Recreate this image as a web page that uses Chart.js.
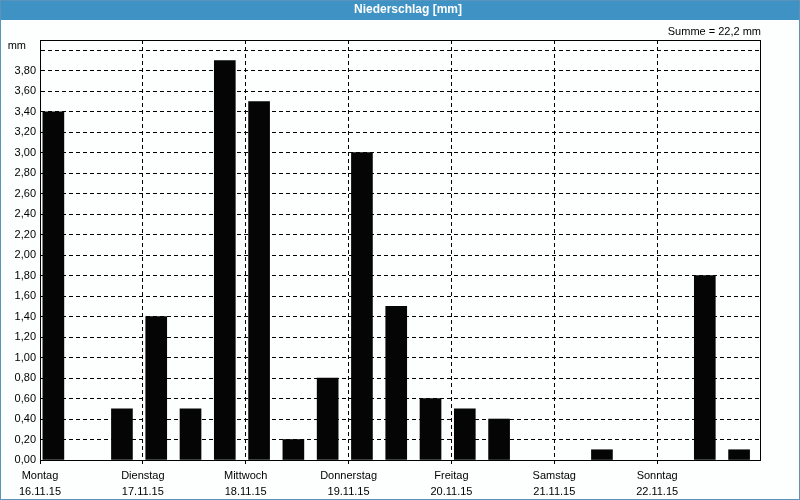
<!DOCTYPE html>
<html>
<head>
<meta charset="utf-8">
<script src="https://cdn.jsdelivr.net/npm/chart.js@4/dist/chart.umd.min.js"></script>
<style>
  body { margin: 0; background: #fff; }
</style>
</head>
<body>
<canvas id="rainChart" width="800" height="500"></canvas>
<script>
// Tage und Datum (Beschriftung der x-Achse)
const days = ['Montag', 'Dienstag', 'Mittwoch', 'Donnerstag', 'Freitag', 'Samstag', 'Sonntag'];
const dates = ['16.11.15', '17.11.15', '18.11.15', '19.11.15', '20.11.15', '21.11.15', '22.11.15'];
// Niederschlag in mm, drei 8-Stunden-Werte pro Tag
const rain = [
  3.4, 0, 0.5,
  1.4, 0.5, 3.9,
  3.5, 0.2, 0.8,
  3.0, 1.5, 0.6,
  0.5, 0.4, 0,
  0, 0.1, 0,
  0, 1.8, 0.1
];
const slotsPerDay = 3;

const fmt = v => v.toFixed(2).replace('.', ',');
const total = rain.reduce((a, b) => a + b, 0);

Chart.defaults.font.family = "'Liberation Sans', Arial, sans-serif";
Chart.defaults.font.size = 11;
Chart.defaults.color = '#000';

// Rahmen, Titelleiste, Summe und Einheit
const decoration = {
  id: 'decoration',
  beforeDraw(chart) {
    const ctx = chart.ctx;
    ctx.save();
    ctx.fillStyle = '#fdfefe';
    ctx.fillRect(0, 0, chart.width, chart.height);
    ctx.fillStyle = '#3e92c4';
    ctx.fillRect(0, 0, chart.width, 20);
    ctx.strokeStyle = '#5a93bb';
    ctx.lineWidth = 1;
    ctx.strokeRect(0.5, 0.5, chart.width - 1, chart.height - 1);
    ctx.fillStyle = '#fff';
    ctx.font = "bold 12px 'Liberation Sans', Arial, sans-serif";
    ctx.textAlign = 'center';
    ctx.textBaseline = 'middle';
    ctx.fillText('Niederschlag [mm]', 408, 10);
    ctx.restore();
  },
  afterDraw(chart) {
    const ctx = chart.ctx;
    const a = chart.chartArea;
    ctx.save();
    ctx.strokeStyle = '#000';
    ctx.lineWidth = 1;
    ctx.strokeRect(Math.round(a.left) + 0.5, Math.round(a.top) + 0.5,
                   Math.round(a.right - a.left), Math.round(a.bottom - a.top));
    ctx.fillStyle = '#000';
    ctx.font = "11px 'Liberation Sans', Arial, sans-serif";
    ctx.textAlign = 'right';
    ctx.textBaseline = 'middle';
    ctx.fillText('Summe = ' + total.toFixed(1).replace('.', ',') + ' mm', a.right + 1, 32);
    ctx.fillText('mm', 26, chart.scales.y.getPixelForValue(4) - 4);
    ctx.restore();
  }
};

const BAR_SHIFT = 0.39; // Balken sitzen links im 8-Stunden-Feld

new Chart(document.getElementById('rainChart'), {
  type: 'bar',
  data: {
    datasets: [{
      data: rain.map((v, i) => ({ x: i + BAR_SHIFT, y: v || null })),
      backgroundColor: '#050505',
      borderWidth: 0,
      barThickness: 21
    }]
  },
  options: {
    responsive: false,
    animation: false,
    layout: { padding: { top: 40, right: 40, left: 0, bottom: 0 } },
    plugins: { legend: { display: false }, tooltip: { enabled: false }, title: { display: false } },
    scales: {
      x: {
        type: 'linear',
        offset: false,
        min: 0,
        max: rain.length,
        afterFit(scale) { scale.height = 40; },
        ticks: {
          stepSize: slotsPerDay,
          autoSkip: false,
          maxRotation: 0,
          padding: 4,
          font: { size: 11, lineHeight: 1.45 },
          callback(v) {
            const d = v / slotsPerDay;
            return d < days.length ? [days[d], dates[d]] : '';
          }
        },
        grid: {
          offset: false,
          color: '#000',
          tickLength: 4,
          tickColor: c => (c.tick && c.tick.value >= rain.length ? 'rgba(0,0,0,0)' : '#000')
        },
        border: { color: '#000', dash: [4, 3] }
      },
      y: {
        min: 0,
        max: 4.1,
        afterFit(scale) { scale.width = 40; },
        ticks: {
          stepSize: 0.2,
          includeBounds: false,
          padding: 4,
          font: { size: 11 },
          callback(v) { return v > 3.9 ? '' : fmt(v); }
        },
        grid: { color: '#000', drawTicks: false },
        border: { color: '#000', dash: [4, 3] }
      }
    }
  },
  plugins: [decoration]
});
</script>
</body>
</html>
